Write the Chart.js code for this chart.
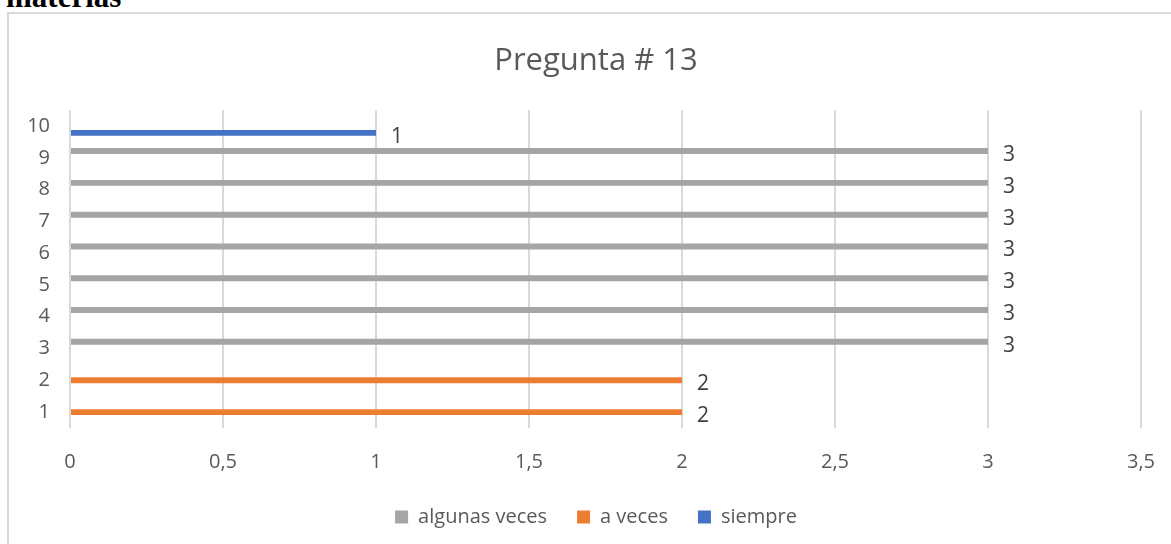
<!DOCTYPE html>
<html>
<head>
<meta charset="utf-8">
<script src="https://cdn.jsdelivr.net/npm/chart.js@4"></script>
<style>
  html, body { margin: 0; padding: 0; background: #fff; overflow: hidden; }
  #head { position: absolute; left: 6px; top: -19px; font: bold 31px/31px "Liberation Serif", serif; color: #000; }
  #box { position: absolute; left: 7px; top: 12px; width: 1174px; height: 530px; border: 2px solid #d9d9d9; }
  #wrap { position: relative; width: 1174px; height: 530px; }
</style>
</head>
<body>
<div id="head">materias</div>
<div id="box"><div id="wrap"><canvas id="myChart"></canvas></div></div>
<script>
var categories = ["1", "2", "3", "4", "5", "6", "7", "8", "9", "10"];
var algunasVeces = [null, null, 3, 3, 3, 3, 3, 3, 3, null];
var aVeces = [2, 2, null, null, null, null, null, null, null, null];
var siempre = [null, null, null, null, null, null, null, null, null, 1];
var xTickLabels = ["0", "0,5", "1", "1,5", "2", "2,5", "3", "3,5"];

var textFont = '"Open Sans", sans-serif';

// value labels to the right of each bar
var barLabels = {
    id: 'barLabels',
    afterDatasetsDraw: function (chart) {
        var ctx = chart.ctx;
        ctx.save();
        ctx.font = '21px ' + textFont;
        ctx.fillStyle = '#404040';
        ctx.textAlign = 'left';
        ctx.textBaseline = 'middle';
        chart.data.datasets.forEach(function (ds, i) {
            chart.getDatasetMeta(i).data.forEach(function (bar, j) {
                if (ds.data[j] == null) return;
                ctx.fillText(String(ds.data[j]), bar.x + 15, bar.y + 4);
            });
        });
        ctx.restore();
    }
};

var ctx = document.getElementById("myChart").getContext('2d');

var myChart = new Chart(ctx, {
    type: 'bar',
    data: {
        labels: categories,
        datasets: [{
            label: 'algunas veces',
            data: algunasVeces,
            backgroundColor: '#A5A5A5'
        }, {
            label: 'a veces',
            data: aVeces,
            backgroundColor: '#ED7D31'
        }, {
            label: 'siempre',
            data: siempre,
            backgroundColor: '#4472C4'
        }]
    },
    options: {
        indexAxis: 'y',
        responsive: true,
        maintainAspectRatio: false,
        animation: false,
        categoryPercentage: 0.64,
        barPercentage: 0.88,
        layout: { padding: { left: 0, right: 0, top: 0, bottom: 7 } },
        plugins: {
            title: {
                display: true,
                text: 'Pregunta # 13',
                color: '#595959',
                font: { family: textFont, size: 31, weight: 'normal' },
                padding: { top: 29, bottom: 30 }
            },
            legend: {
                position: 'bottom',
                labels: {
                    color: '#595959',
                    font: { family: textFont, size: 20 },
                    boxWidth: 13,
                    boxHeight: 13,
                    padding: 30
                }
            },
            tooltip: { enabled: false }
        },
        scales: {
            x: {
                min: 0,
                max: 3.5,
                ticks: {
                    stepSize: 0.5,
                    color: '#595959',
                    font: { family: textFont, size: 20 },
                    padding: 22,
                    callback: function (v, i) { return xTickLabels[i]; }
                },
                grid: { color: '#d9d9d9', lineWidth: 2, drawTicks: false },
                border: { display: false },
                afterFit: function (scale) { scale.height = 49; }
            },
            y: {
                reverse: true,
                ticks: {
                    color: '#595959',
                    font: { family: textFont, size: 20 },
                    padding: 20
                },
                grid: { display: false, drawTicks: false },
                border: { display: false },
                afterFit: function (scale) { scale.width = 61; }
            },
            // empty right-hand spacer so title and legend stay centred on the whole box
            yRight: {
                type: 'category',
                position: 'right',
                display: true,
                ticks: { display: false },
                grid: { display: false, drawTicks: false },
                border: { display: false },
                afterFit: function (scale) { scale.width = 42; }
            }
        }
    },
    plugins: [barLabels]
});
</script>
</body>
</html>
